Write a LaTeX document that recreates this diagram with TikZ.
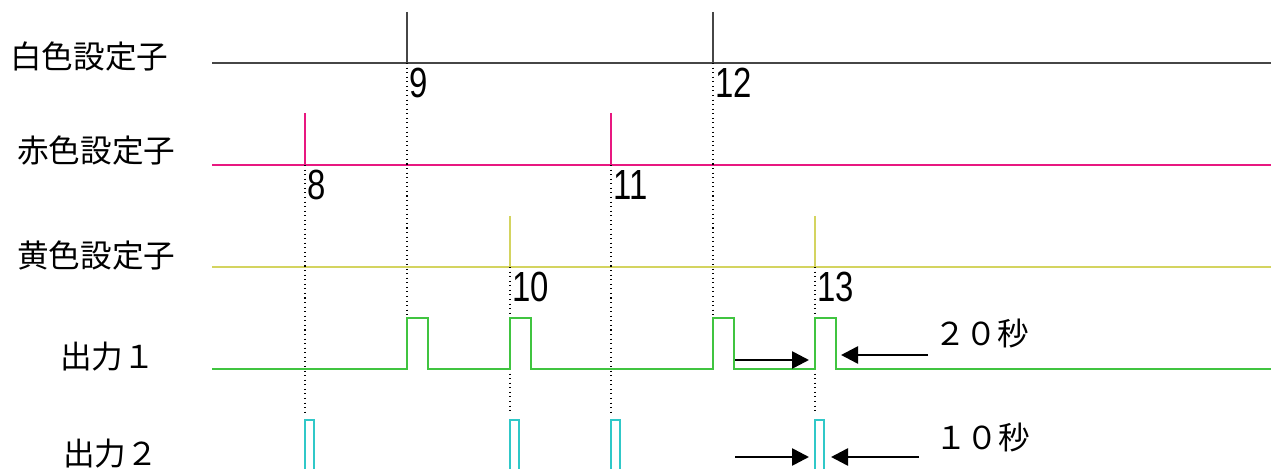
\documentclass[tikz,border=0pt]{standalone}
\usepackage{fontspec}
\setmainfont{Liberation Sans}
\newfontfamily\jpfont{Noto Sans CJK JP}
\usetikzlibrary{arrows.meta}

\definecolor{whiteset}{RGB}{70,70,70}
\definecolor{redset}{RGB}{232,24,128}
\definecolor{yellowset}{RGB}{212,212,96}
\definecolor{outone}{RGB}{64,196,64}
\definecolor{outtwo}{RGB}{48,200,200}

\begin{document}
\begin{tikzpicture}[x=0.02cm,y=-0.02cm,
  lbl/.style={font=\jpfont\fontsize{18}{18}\selectfont},
  num/.style={anchor=north west,inner sep=0pt,font=\fontsize{24}{24}\selectfont},
  sig/.style={line width=0.85pt},
  guide/.style={dotted,line width=0.6pt},
  timing/.style={line width=1.5pt,-{Triangle[length=0.34cm,width=0.34cm]}}]
  \useasboundingbox (0,0) rectangle (1277,469);
  % row names
  \node[lbl,anchor=west] (white) at (4,57) {白色設定子};
  \node[lbl,anchor=west] (red) at (11,151) {赤色設定子};
  \node[lbl,anchor=west] (yellow) at (11,256) {黄色設定子};
  \node[lbl,anchor=west] (one) at (54,357) {出力１};
  \node[lbl,anchor=west] (two) at (57,454) {出力２};
  % setter lines
  \draw[sig,whiteset] (212,63) -- (1271,63);
  \foreach \x in {407,713} \draw[sig,whiteset] (\x,12) -- (\x,63);
  \draw[sig,redset] (212,165) -- (1271,165);
  \foreach \x in {305,611} \draw[sig,redset] (\x,113) -- (\x,165);
  \draw[sig,yellowset] (212,267) -- (1271,267);
  \foreach \x in {510,815} \draw[sig,yellowset] (\x,216) -- (\x,267);
  % numbers
  \node[num] (n9) at (409,68) {\scalebox{0.78}[1]{9}};
  \node[num] (n12) at (715,68) {\scalebox{0.78}[1]{12}};
  \node[num] (n8) at (307,170) {\scalebox{0.78}[1]{8}};
  \node[num] (n11) at (613,170) {\scalebox{0.78}[1]{11}};
  \node[num] (n10) at (512,272) {\scalebox{0.78}[1]{10}};
  \node[num] (n13) at (817,272) {\scalebox{0.78}[1]{13}};
  % dotted guides
  \foreach \x in {407,713} \draw[guide] (\x,63) -- (\x,318);
  \foreach \x in {305,611} \draw[guide] (\x,165) -- (\x,412);
  \foreach \x in {510,815} {
    \draw[guide] (\x,267) -- (\x,318);
    \draw[guide] (\x,369) -- (\x,412);
  }
  % outputs
  \draw[sig,outone] (212,369) foreach \x in {407,510,713,815} {
    -- (\x,369) |- (\x+21,318) -- (\x+21,369) } -- (1271,369);
  \foreach \x in {305,510,611,815} \draw[sig,outtwo] (\x,471) |- (\x+9,420) -- (\x+9,471);
  % pulse widths
  \coordinate (a1) at (735,360);
  \coordinate (b1) at (809,360);
  \coordinate (c1) at (928,355);
  \coordinate (d1) at (841,355);
  \draw[timing] (a1) -- (b1);
  \draw[timing] (c1) -- (d1);
  \node[lbl,anchor=west] (t20) at (928,333) {２０秒};
  \coordinate (a2) at (735,457);
  \coordinate (b2) at (809,457);
  \coordinate (c2) at (919,457);
  \coordinate (d2) at (831,457);
  \draw[timing] (a2) -- (b2);
  \draw[timing] (c2) -- (d2);
  \node[lbl,anchor=west] (t10) at (929,437) {１０秒};
\end{tikzpicture}
\end{document}
